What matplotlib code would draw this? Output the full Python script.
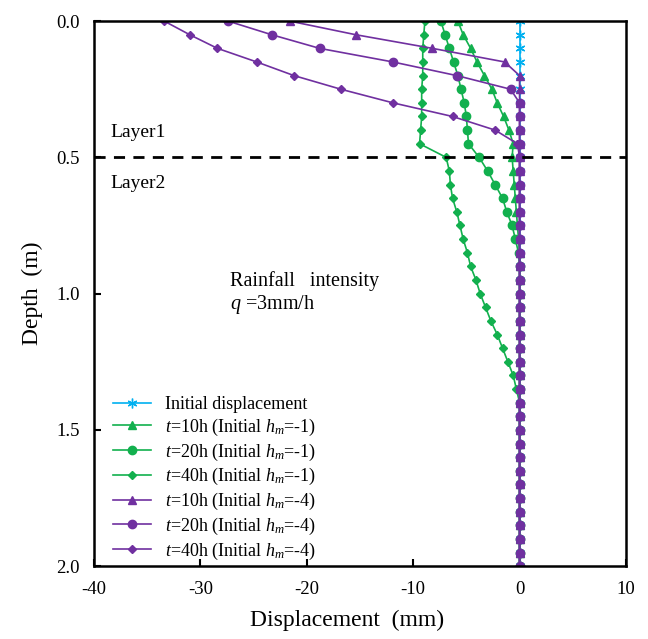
import numpy as np
import matplotlib
matplotlib.use("Agg")
import matplotlib.pyplot as plt

plt.rcParams["font.family"] = ["Liberation Serif", "DejaVu Serif"]
plt.rcParams["mathtext.fontset"] = "custom"
plt.rcParams["mathtext.rm"] = "Liberation Serif"
plt.rcParams["mathtext.it"] = "Liberation Serif:italic"
plt.rcParams["axes.unicode_minus"] = False

# depth (m)
depth = [0.00, 0.05, 0.10, 0.15, 0.20, 0.25, 0.30, 0.35, 0.40, 0.45,
         0.50, 0.55, 0.60, 0.65, 0.70, 0.75, 0.80, 0.85, 0.90, 0.95,
         1.00, 1.05, 1.10, 1.15, 1.20, 1.25, 1.30, 1.35, 1.40, 1.45,
         1.50, 1.55, 1.60, 1.65, 1.70, 1.75, 1.80, 1.85, 1.90, 1.95, 2.00]

# displacement (mm)
init_disp = [0.0] * 41

g10 = [-5.8, -5.3, -4.6, -4.0, -3.3, -2.6, -2.1, -1.5, -1.0, -0.6,
       -0.7, -0.6, -0.5, -0.4, -0.3, -0.2, -0.1, 0, 0, 0,
       0, 0, 0, 0, 0, 0, 0, 0, 0, 0,
       0, 0, 0, 0, 0, 0, 0, 0, 0, 0, 0]
g20 = [-7.4, -7.0, -6.6, -6.2, -5.8, -5.5, -5.2, -5.0, -4.9, -4.8,
       -3.8, -3.0, -2.3, -1.6, -1.2, -0.7, -0.4, -0.1, 0, 0,
       0, 0, 0, 0, 0, 0, 0, 0, 0, 0,
       0, 0, 0, 0, 0, 0, 0, 0, 0, 0, 0]
g40 = [-8.9, -9.0, -9.1, -9.1, -9.1, -9.2, -9.2, -9.2, -9.3, -9.4,
       -6.9, -6.6, -6.5, -6.3, -5.9, -5.6, -5.3, -4.9, -4.6, -4.1,
       -3.7, -3.2, -2.7, -2.1, -1.6, -1.1, -0.6, -0.3, 0, 0,
       0, 0, 0, 0, 0, 0, 0, 0, 0, 0, 0]
p10 = [-21.6, -15.4, -8.2, -1.4, 0, 0, 0, 0, 0, 0,
       0, 0, 0, 0, 0, 0, 0, 0, 0, 0,
       0, 0, 0, 0, 0, 0, 0, 0, 0, 0,
       0, 0, 0, 0, 0, 0, 0, 0, 0, 0, 0]
p20 = [-27.4, -23.3, -18.8, -11.9, -5.9, -0.85, 0, 0, 0, 0,
       0, 0, 0, 0, 0, 0, 0, 0, 0, 0,
       0, 0, 0, 0, 0, 0, 0, 0, 0, 0,
       0, 0, 0, 0, 0, 0, 0, 0, 0, 0, 0]
p40 = [-33.4, -31.0, -28.4, -24.7, -21.2, -16.8, -11.9, -6.3, -2.3, -0.2,
       0, 0, 0, 0, 0, 0, 0, 0, 0, 0,
       0, 0, 0, 0, 0, 0, 0, 0, 0, 0,
       0, 0, 0, 0, 0, 0, 0, 0, 0, 0, 0]

labels = ["Initial displacement",
          r"$t$=10h (Initial $h_m$=-1)",
          r"$t$=20h (Initial $h_m$=-1)",
          r"$t$=40h (Initial $h_m$=-1)",
          r"$t$=10h (Initial $h_m$=-4)",
          r"$t$=20h (Initial $h_m$=-4)",
          r"$t$=40h (Initial $h_m$=-4)"]

blue = "#00B0F0"
green = "#12B04E"
purple = "#7030A0"

fig = plt.figure(figsize=(6.48, 6.39), dpi=100)
ax = fig.add_axes([0.145, 0.114, 0.821, 0.853])

ax.plot(init_disp, depth, color=blue, marker=(6, 2, 0), ms=7, lw=1.2, label=labels[0])
ax.plot(g10, depth, color=green, marker="^", ms=6, lw=1.2, label=labels[1])
ax.plot(g20, depth, color=green, marker="o", ms=6, lw=1.2, label=labels[2])
ax.plot(g40, depth, color=green, marker="D", ms=4, lw=1.2, label=labels[3])
ax.plot(p40, depth, color=purple, marker="D", ms=4, lw=1.2, label=labels[6])
ax.plot(p20, depth, color=purple, marker="o", ms=6, lw=1.2, label=labels[5])
ax.plot(p10, depth, color=purple, marker="^", ms=6, lw=1.2, label=labels[4])

ax.axhline(0.5, color="black", lw=2, ls=(0, (4, 3)))

ax.set_xlim(-40, 10)
ax.set_ylim(2.0, 0.0)
ax.set_xticks([-40, -30, -20, -10, 0, 10])
ax.set_yticks([0.0, 0.5, 1.0, 1.5, 2.0])
ax.set_yticklabels(["0.0", "0.5", "1.0", "1.5", "2.0"])
ax.tick_params(direction="in", length=5, width=1.5, labelsize=13.5)
ax.tick_params(axis="x", pad=11)
ax.tick_params(axis="y", pad=10)
for s in ax.spines.values():
    s.set_linewidth(1.8)

ax.set_xlabel("Displacement  (mm)", fontsize=17)
ax.xaxis.set_label_coords(0.476, -0.08)
ax.set_ylabel("Depth  (m)", fontsize=17, labelpad=10)

ax.text(-38.5, 0.41, "Layer1", fontsize=14, va="center")
ax.text(-38.5, 0.595, "Layer2", fontsize=14, va="center")
ax.text(-27.2, 0.955, "Rainfall   intensity", fontsize=14.5, va="center")
ax.text(-27.2, 1.04, r"$q$ =3mm/h", fontsize=14.5, va="center")

handles, labs = ax.get_legend_handles_labels()
order = [0, 1, 2, 3, 6, 5, 4]
ax.legend([handles[i] for i in order], [labs[i] for i in order],
          loc="upper left", bbox_to_anchor=(0.036, 0.312), frameon=False,
          borderpad=0, borderaxespad=0, handlelength=2.1, handletextpad=0.8,
          labelspacing=0.2, prop={"size": 13})

fig.savefig("out.png", dpi=100)
